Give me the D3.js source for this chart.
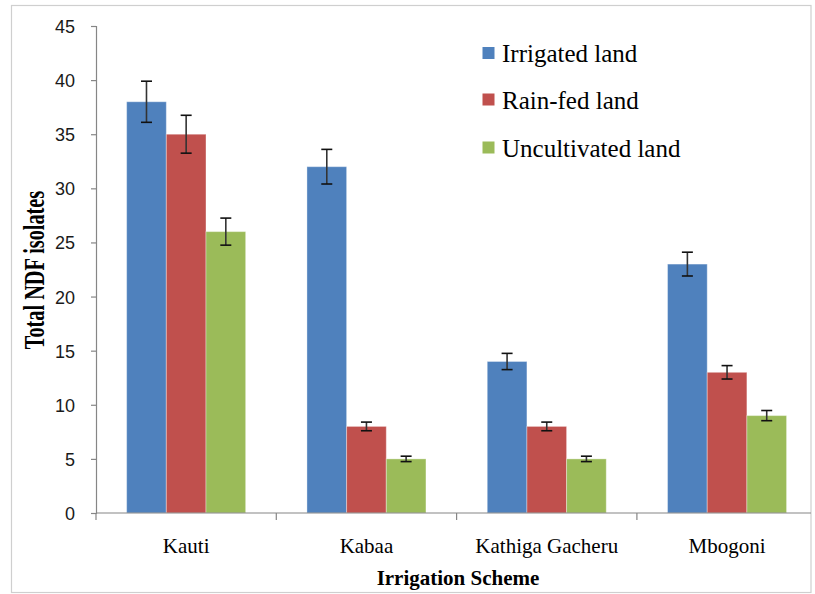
<!DOCTYPE html>
<html>
<head>
<meta charset="utf-8">
<script src="https://cdn.jsdelivr.net/npm/d3@7/dist/d3.min.js"></script>
<style>
  html, body { margin: 0; padding: 0; background: #fff; }
  svg { display: block; }
</style>
</head>
<body>
<svg id="chart" width="815" height="594"></svg>
<script>
// ---- data ----
const categories = ["Kauti", "Kabaa", "Kathiga Gacheru", "Mbogoni"];
const seriesNames = ["Irrigated land", "Rain-fed land", "Uncultivated land"];
const irrigated = [38, 32, 14, 23];
const rainfed = [35, 8, 8, 13];
const uncultivated = [26, 5, 5, 9];
const irrigatedErr = [1.9, 1.6, 0.75, 1.1];
const rainfedErr = [1.75, 0.4, 0.4, 0.62];
const uncultivatedErr = [1.25, 0.25, 0.25, 0.47];
const yTicks = [0, 5, 10, 15, 20, 25, 30, 35, 40, 45];
const colors = ["#4F81BD", "#C0504D", "#9BBB59"];

const values = [irrigated, rainfed, uncultivated];
const errors = [irrigatedErr, rainfedErr, uncultivatedErr];

const svg = d3.select("#chart");

// outer border
svg.append("rect")
  .attr("x", 11.5).attr("y", 5.5).attr("width", 799.5).attr("height", 587)
  .attr("fill", "none").attr("stroke", "#cfcfcf").attr("stroke-width", 1.2);

const plotLeft = 96, bandW = 180.3, plotTop = 26, plotBottom = 513, rightEdge = 811;

const x = d3.scaleBand().domain(categories).range([plotLeft, plotLeft + bandW * 4]).padding(0);
const xs = d3.scaleBand().domain(seriesNames).range([bandW * 0.17, bandW * 0.83]).padding(0);
const y = d3.scaleLinear().domain([0, 45]).range([plotBottom, plotTop]);

// bars
const data = [];
categories.forEach((c, i) => {
  seriesNames.forEach((s, j) => {
    data.push({ c, s, j, v: values[j][i], e: errors[j][i] });
  });
});

svg.append("g").selectAll("rect").data(data).join("rect")
  .attr("x", d => x(d.c) + xs(d.s))
  .attr("y", d => y(d.v))
  .attr("width", xs.bandwidth())
  .attr("height", d => y(0) - y(d.v))
  .attr("fill", d => colors[d.j])
  .attr("stroke", "rgba(255,255,255,0.35)")
  .attr("stroke-width", 1);

// error bars
const eg = svg.append("g");
data.forEach(d => {
  const cx = x(d.c) + xs(d.s) + xs.bandwidth() / 2;
  eg.append("line").attr("x1", cx).attr("x2", cx)
    .attr("y1", y(d.v + d.e)).attr("y2", y(d.v - d.e))
    .attr("stroke", "#333").attr("stroke-width", 1.6);
  [d.v + d.e, d.v - d.e].forEach(v => {
    eg.append("line").attr("x1", cx - 5.5).attr("x2", cx + 5.5)
      .attr("y1", y(v)).attr("y2", y(v))
      .attr("stroke", "#111").attr("stroke-width", 1.6);
  });
});

// y axis
const yAxis = svg.append("g").attr("transform", `translate(${plotLeft},0)`)
  .call(d3.axisLeft(y).tickValues(yTicks).tickSize(5).tickPadding(0).tickFormat(d3.format("d")));
yAxis.select(".domain").attr("stroke", "#868686").attr("stroke-width", 1.2);
yAxis.selectAll(".tick line").attr("stroke", "#868686").attr("stroke-width", 1.2);
yAxis.selectAll(".tick text")
  .attr("x", -21).attr("dy", "0.36em")
  .attr("font-family", "Liberation Sans, Arial, sans-serif")
  .attr("font-size", 18).attr("fill", "#1a1a1a");

// x axis
const xg = svg.append("g");
xg.append("line").attr("x1", plotLeft).attr("x2", rightEdge)
  .attr("y1", plotBottom).attr("y2", plotBottom)
  .attr("stroke", "#868686").attr("stroke-width", 1.2);
categories.forEach(c => {
  xg.append("line").attr("x1", x(c)).attr("x2", x(c))
    .attr("y1", plotBottom).attr("y2", plotBottom + 7)
    .attr("stroke", "#868686").attr("stroke-width", 1.2);
});
const xAxis = svg.append("g").attr("transform", `translate(0,${plotBottom})`)
  .call(d3.axisBottom(x).tickSize(0).tickPadding(0));
xAxis.select(".domain").remove();
xAxis.selectAll(".tick text")
  .attr("y", 40).attr("dy", 0)
  .attr("font-family", "Liberation Serif, Times New Roman, serif")
  .attr("font-size", 21).attr("fill", "#000");

// axis titles
svg.append("text")
  .attr("x", 458).attr("y", 585)
  .attr("text-anchor", "middle")
  .attr("font-family", "Liberation Serif, Times New Roman, serif")
  .attr("font-weight", "bold").attr("font-size", 21)
  .text("Irrigation Scheme");

svg.append("text")
  .attr("transform", "translate(44,270) rotate(-90) scale(0.7,1)")
  .attr("text-anchor", "middle")
  .attr("font-family", "Liberation Serif, Times New Roman, serif")
  .attr("font-weight", "bold").attr("font-size", 29)
  .text("Total NDF isolates");

// legend
const lg = svg.append("g");
const legendY = [62, 108.5, 156.5];
seriesNames.forEach((s, j) => {
  lg.append("rect").attr("x", 482.5).attr("y", legendY[j] - 15)
    .attr("width", 12).attr("height", 12).attr("fill", colors[j]);
  lg.append("text").attr("x", 502).attr("y", legendY[j])
    .attr("font-family", "Liberation Serif, Times New Roman, serif")
    .attr("font-size", 25).attr("fill", "#000")
    .text(s);
});
</script>
</body>
</html>
